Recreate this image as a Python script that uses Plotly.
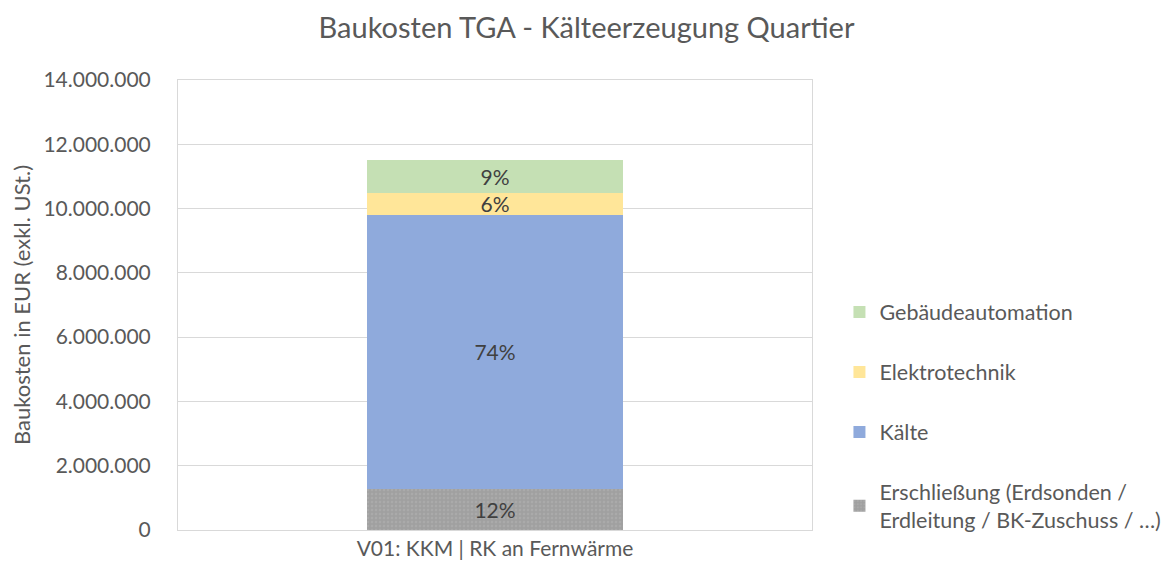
import plotly.graph_objects as go

categories = ["V01: KKM | RK an Fernwärme"]
series_names = [
    "Erschließung (Erdsonden /<br>Erdleitung / BK-Zuschuss / …)",
    "Kälte",
    "Elektrotechnik",
    "Gebäudeautomation",
]
erschliessung = [1280000]
kaelte = [8530000]
elektrotechnik = [680000]
gebaeudeautomation = [1035000]
pct_labels = ["12%", "74%", "6%", "9%"]
y_ticks = [0, 2000000, 4000000, 6000000, 8000000, 10000000, 12000000, 14000000]

colors = ["#a5a5a5", "#8faadc", "#ffe699", "#c5e0b4"]
values = [erschliessung, kaelte, elektrotechnik, gebaeudeautomation]

FONT = "Lato, Calibri, Carlito, sans-serif"
GREY = "#595959"

fig = go.Figure()
n = len(series_names)
for i, (name, vals, col, lab) in enumerate(zip(series_names, values, colors, pct_labels)):
    marker = dict(color=col, line=dict(width=0))
    if i == 0:
        marker["pattern"] = dict(shape=".", fgcolor="#b4b4b4", bgcolor="#a0a0a0", size=4, solidity=0.3)
    fig.add_trace(go.Bar(
        x=categories, y=vals, name=name, marker=marker,
        text=[lab], textposition="inside", insidetextanchor="middle",
        textfont=dict(size=21, color="#404040", family=FONT),
        insidetextfont=dict(size=21, color="#404040", family=FONT),
        constraintext="none", cliponaxis=False,
        legendgroup=f"g{i}", legendrank=n - i,
        hoverinfo="skip",
    ))

fig.update_layout(
    barmode="stack",
    bargap=0.596,
    width=1173, height=576,
    margin=dict(l=170, r=369, t=72, b=54, autoexpand=False),
    paper_bgcolor="white", plot_bgcolor="white",
    separators=",.",
    font=dict(family=FONT, color=GREY, size=21),
    title=dict(text="Baukosten TGA - Kälteerzeugung Quartier", x=0.4932, xanchor="center",
               y=0.966, yanchor="middle", font=dict(size=29, color=GREY, family=FONT)),
    legend=dict(x=1.0433, xanchor="left", y=0.53, yanchor="top", traceorder="grouped",
                tracegroupgap=29, font=dict(size=21.5, color=GREY, family=FONT),
                itemwidth=30, bgcolor="rgba(0,0,0,0)"),
    showlegend=True,
)
fig.update_yaxes(range=[0, 14000000], tickvals=y_ticks, tickformat=",.0f",
                 showgrid=True, gridcolor="#d9d9d9", gridwidth=1,
                 showline=True, linecolor="#d9d9d9", mirror=True, zeroline=False,
                 ticks="", ticklabelstandoff=22, automargin=False,
                 tickfont=dict(size=21, color=GREY, family=FONT),
                 title=dict(text="Baukosten in EUR (exkl. USt.)", standoff=10,
                            font=dict(size=22, color=GREY, family=FONT)))
fig.update_xaxes(showline=True, linecolor="#d9d9d9", mirror=True, ticks="", automargin=False,
                 tickfont=dict(size=21, color=GREY, family=FONT))

fig.write_html("out.html")
